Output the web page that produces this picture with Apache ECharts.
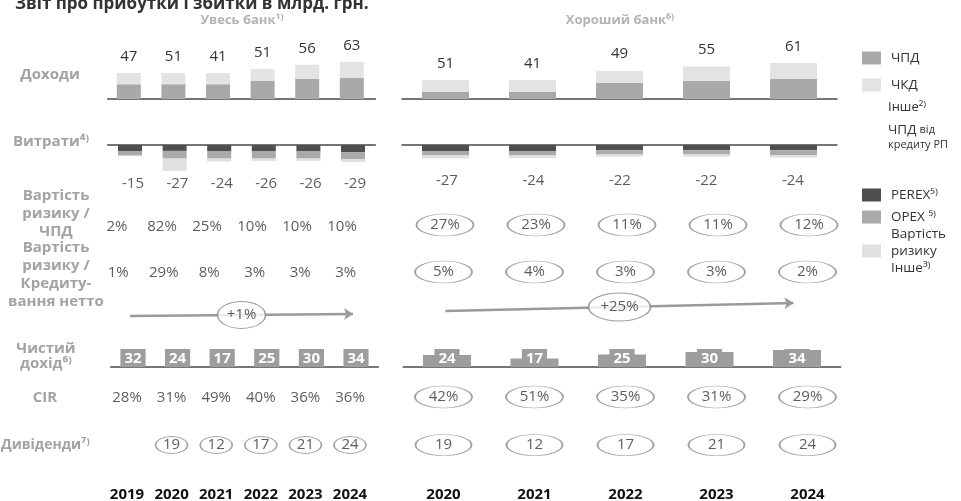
<!DOCTYPE html>
<html><head><meta charset="utf-8">
<script src="https://cdn.jsdelivr.net/npm/echarts@6/dist/echarts.min.js"></script>
<style>html,body{margin:0;padding:0;background:#fff}#c{width:961px;height:501px}</style>
</head><body><div id="c"></div>
<script>
// ---------- DATA ----------
const yearsAll = ['2019','2020','2021','2022','2023','2024'];
const yearsGood = ['2020','2021','2022','2023','2024'];
const incomeTotalAll = [47,51,41,51,56,63];
const nimAll = [25,25,25,31,34,36];      // ЧПД
const feeAll = [19,19,19,20,24,27];      // ЧКД
const incomeTotalGood = [51,41,49,55,61];
const nimGood = [12,12,27,31,34];
const feeGood = [20,20,21,24,27];
const expenseTotalAll = [-15,-27,-24,-26,-26,-29];
const perexAll = [-11,-10,-11,-11,-11,-12];
const opexAll = [-7,-13,-12,-12,-12,-12];
const riskAll = [-1,-21,-5,-4,-4,-5];
const expenseTotalGood = [-27,-24,-22,-22,-24];
const perexGood = [-10,-10,-9,-9,-9];
const opexGood = [-7,-7,-7,-7,-8];
const riskGood = [-6,-5,-4,-4,-4];
const corNiiAll = [2,82,25,10,10,10];
const corNiiGood = [27,23,11,11,12];
const corLoansAll = [1,29,8,3,3,3];
const corLoansGood = [5,4,3,3,2];
const loanGrowthAll = '+1%';
const loanGrowthGood = '+25%';
const netIncomeAll = [32,24,17,25,30,34];
const netIncomeGood = [24,17,25,30,34];
const cirAll = [28,31,49,40,36,36];
const cirGood = [42,51,35,31,29];
const dividendsAll = [null,19,12,17,21,24];
const dividendsGood = [19,12,17,21,24];

// ---------- STYLE ----------
const FONT = '"Open Sans", "Noto Sans", sans-serif';
const C = {nim:'#a9a9a9', fee:'#e3e3e3', perex:'#4f4f4f', opex:'#aaaaaa', risk:'#e0e0e0', net:'#9d9d9d', axis:'#4a4a4a', rowLab:'#a3a3a3', txt:'#333333', ell:'#8a8a8a'};
const ELLIPSE = 'path://M0 50A100 50 0 1 1 200 50A100 50 0 1 1 0 50Z';

const grids=[], xAxis=[], yAxis=[], series=[];
function grid(left,width,top,height){ grids.push({left,width,top,height,outerBoundsMode:'none',containLabel:false}); return grids.length-1; }
function catAxis(gi,cats,extra){ xAxis.push(Object.assign({type:'category',gridIndex:gi,data:cats,boundaryGap:true,show:false},extra||{})); }
function valAxis(gi,min,max){ yAxis.push({type:'value',gridIndex:gi,min:min,max:max,show:false}); }
const lineAxis = {show:true, axisLine:{show:true,onZero:true,lineStyle:{color:C.axis,width:1.5}}, axisTick:{show:false}, axisLabel:{show:false}, splitLine:{show:false}};

function barBlock(cats,left,width,nim,fee,totals,perex,opex,risk,barW){
  let g = grid(left,width,40,59);
  catAxis(g,cats,lineAxis); valAxis(g,0,100);
  series.push({type:'bar',name:'ЧПД',xAxisIndex:g,yAxisIndex:g,stack:'inc'+g,data:nim,barWidth:barW,itemStyle:{color:C.nim}});
  series.push({type:'bar',name:'ЧКД',xAxisIndex:g,yAxisIndex:g,stack:'inc'+g,data:fee,barWidth:barW,itemStyle:{color:C.fee},
    label:{show:true,position:'top',distance:9,fontFamily:FONT,fontSize:15,color:C.txt,formatter:p=>String(totals[p.dataIndex])}});
  g = grid(left,width,145,59);
  catAxis(g,cats,lineAxis); valAxis(g,-100,0);
  series.push({type:'bar',name:'PEREX⁵⁾',xAxisIndex:g,yAxisIndex:g,stack:'exp'+g,data:perex,barWidth:barW,itemStyle:{color:C.perex}});
  series.push({type:'bar',name:'OPEX ⁵⁾',xAxisIndex:g,yAxisIndex:g,stack:'exp'+g,data:opex,barWidth:barW,itemStyle:{color:C.opex}});
  series.push({type:'bar',name:'Вартість ризику Інше³⁾',xAxisIndex:g,yAxisIndex:g,stack:'exp'+g,data:risk,barWidth:barW,itemStyle:{color:C.risk}});
}
function textRow(cats,left,width,cy,vals,fmt,ell,extraX){
  const g = grid(left,width,cy-10,20);
  catAxis(g,cats,extraX); valAxis(g,-1,1);
  const data=[]; vals.forEach((v,i)=>{ if(v!==null&&v!==undefined) data.push([cats[i],0,v]); });
  series.push({type:'scatter',xAxisIndex:g,yAxisIndex:g,data:data,silent:true,
    symbol: ell? ELLIPSE:'circle', symbolSize: ell? ell:1,
    itemStyle: ell? {color:'rgba(255,255,255,0)',borderColor:C.ell,borderWidth:1.2} : {color:'rgba(0,0,0,0)'},
    label:{show:true,position:'inside',fontFamily:FONT,fontSize:15,color:C.txt,formatter:p=>fmt(p.value[2])}});
}
function arrowRow(n,left,width,cy,text,ellSize,rise){
  const g = grid(left,width,cy-10,20);
  xAxis.push({type:'value',gridIndex:g,min:-0.5,max:n-0.5,show:false}); valAxis(g,-1,1);
  series.push({type:'line',xAxisIndex:g,yAxisIndex:g,data:[],silent:true,z:1,
    markLine:{z:1,silent:true,symbol:['none','arrow'],symbolSize:[9,9],label:{show:false},
      lineStyle:{color:'#9a9a9a',width:2.5,type:'solid'},
      data:[[{coord:[0,0]},{coord:[n-1,rise]}]]}});
  series.push({type:'scatter',xAxisIndex:g,yAxisIndex:g,z:10,silent:true,data:[[(n-1)/2,rise/2]],
    symbol:ELLIPSE,symbolSize:ellSize,itemStyle:{color:'#ffffff',borderColor:C.ell,borderWidth:1.2},
    label:{show:true,position:'inside',fontFamily:FONT,fontSize:15,color:C.txt,formatter:()=>text}});
}
function netBlock(cats,left,width,vals,barW){
  const g = grid(left,width,337,30);
  catAxis(g,cats,lineAxis); valAxis(g,0,60);
  series.push({type:'bar',xAxisIndex:g,yAxisIndex:g,data:vals,barWidth:barW,itemStyle:{color:C.net},
    label:{show:true,position:'insideBottom',distance:0,backgroundColor:C.net,padding:[2,4,1,4],
      fontFamily:FONT,fontSize:15,fontWeight:'bold',color:'#ffffff'}});
}
const pct = v=>v+'%', num = v=>String(v);
const yearAxis = {show:true,axisLine:{show:false},axisTick:{show:false},
  axisLabel:{show:true,margin:32,fontFamily:FONT,fontSize:15,fontWeight:'bold',color:'#111'}};

// ---- Увесь банк ----
barBlock(yearsAll,107.7,267.6,nimAll,feeAll,incomeTotalAll,perexAll,opexAll,riskAll,24);
textRow(yearsAll,110.8,266.4,184,expenseTotalAll,num,null);
textRow(yearsAll,94.5,270,227,corNiiAll,pct,null);
textRow(yearsAll,95.5,273,273,corLoansAll,pct,null);
arrowRow(yearsAll.length,107.7,267.6,316,loanGrowthAll,[48,27],0.2);
netBlock(yearsAll,110.7,267.6,netIncomeAll,24);
textRow(yearsAll,104.7,267.6,398,cirAll,pct,null);
textRow(yearsAll,104.7,267.6,445,dividendsAll,num,[32,17],yearAxis);

// ---- Хороший банк ----
barBlock(yearsGood,402,435,nimGood,feeGood,incomeTotalGood,perexGood,opexGood,riskGood,47);
textRow(yearsGood,403.7,432.5,181,expenseTotalGood,num,null);
textRow(yearsGood,399.5,455,225,corNiiGood,pct,[57,22]);
textRow(yearsGood,398,455,272,corLoansGood,pct,[57,22]);
arrowRow(yearsGood.length,402,435,311,loanGrowthGood,[62,28],0.8);
netBlock(yearsGood,403.25,437.5,netIncomeGood,48);
textRow(yearsGood,398,455,397,cirGood,pct,[57,22]);
textRow(yearsGood,398,455,445,dividendsGood,num,[56,21],yearAxis);

// legend-only series
series.push({type:'bar',name:'Інше²⁾',data:[],xAxisIndex:0,yAxisIndex:0,itemStyle:{color:'rgba(0,0,0,0)'}});
series.push({type:'bar',name:'ЧПД від кредиту РП',data:[],xAxisIndex:0,yAxisIndex:0,itemStyle:{color:'rgba(0,0,0,0)'}});

function leg(name,left,cy,h,opts){
  return Object.assign({data:[name],left:left,top:cy-h/2,orient:'vertical',selectedMode:false,icon:'rect',
    itemWidth:19,itemHeight:13,textStyle:{fontFamily:FONT,fontSize:13.5,color:C.txt,lineHeight:17,padding:[0,0,0,5]}},opts||{});
}
const legends = [
  leg('ЧПД',857,53,17),
  leg('ЧКД',857,80,17),
  leg('Інше²⁾',877,102,17,{icon:'none',itemWidth:1,textStyle:{fontFamily:FONT,fontSize:13,color:C.txt,lineHeight:17}}),
  leg('ЧПД від кредиту РП',877,133,30,{icon:'none',itemWidth:1,
    formatter:()=>'{a|ЧПД} {b|від}\n{b|кредиту РП}',
    textStyle:{fontFamily:FONT,color:C.txt,rich:{a:{fontFamily:FONT,fontSize:13.5,lineHeight:15,color:C.txt},b:{fontFamily:FONT,fontSize:11,lineHeight:15,color:C.txt}}}}),
  leg('PEREX⁵⁾',857,190,17),
  leg('OPEX ⁵⁾',857,212,17),
  leg('Вартість ризику Інше³⁾',857,246,51,{formatter:()=>'Вартість\nризику\nІнше³⁾'})
];

function label(text,x,y,extra){ return {type:'text',x:x,y:y,silent:true,style:Object.assign({text:text,align:'center',verticalAlign:'middle',font:'bold 15px '+FONT,fill:C.rowLab,lineHeight:18},extra||{})}; }
const graphics = [
  {type:'text',x:15,y:4,silent:true,style:{text:'Звіт про прибутки і збитки в млрд. грн.',align:'left',verticalAlign:'middle',font:'bold 17px '+FONT,fill:'#333'}},
  label('Увесь банк¹⁾',242,20,{font:'bold 13px '+FONT,fill:'#b3b3b3'}),
  label('Хороший банк⁶⁾',620,20,{font:'bold 13px '+FONT,fill:'#b3b3b3'}),
  label('Доходи',50,75),
  label('Витрати⁴⁾',51,142),
  label('Вартість\nризику /\nЧПД',56,214),
  label('Вартість\nризику /\nКредиту-\nвання нетто',56,275),
  label('Чистий\nдохід⁶⁾',46,356,{lineHeight:15}),
  label('CIR',45,398),
  label('Дивіденди⁷⁾',1,445,{align:'left',font:'bold 14px '+FONT})
];

const chart = echarts.init(document.getElementById('c'));
chart.setOption({
  animation:false, backgroundColor:'#ffffff',
  textStyle:{fontFamily:FONT},
  grid:grids, xAxis:xAxis, yAxis:yAxis, series:series, legend:legends, graphic:graphics
});
</script></body></html>
